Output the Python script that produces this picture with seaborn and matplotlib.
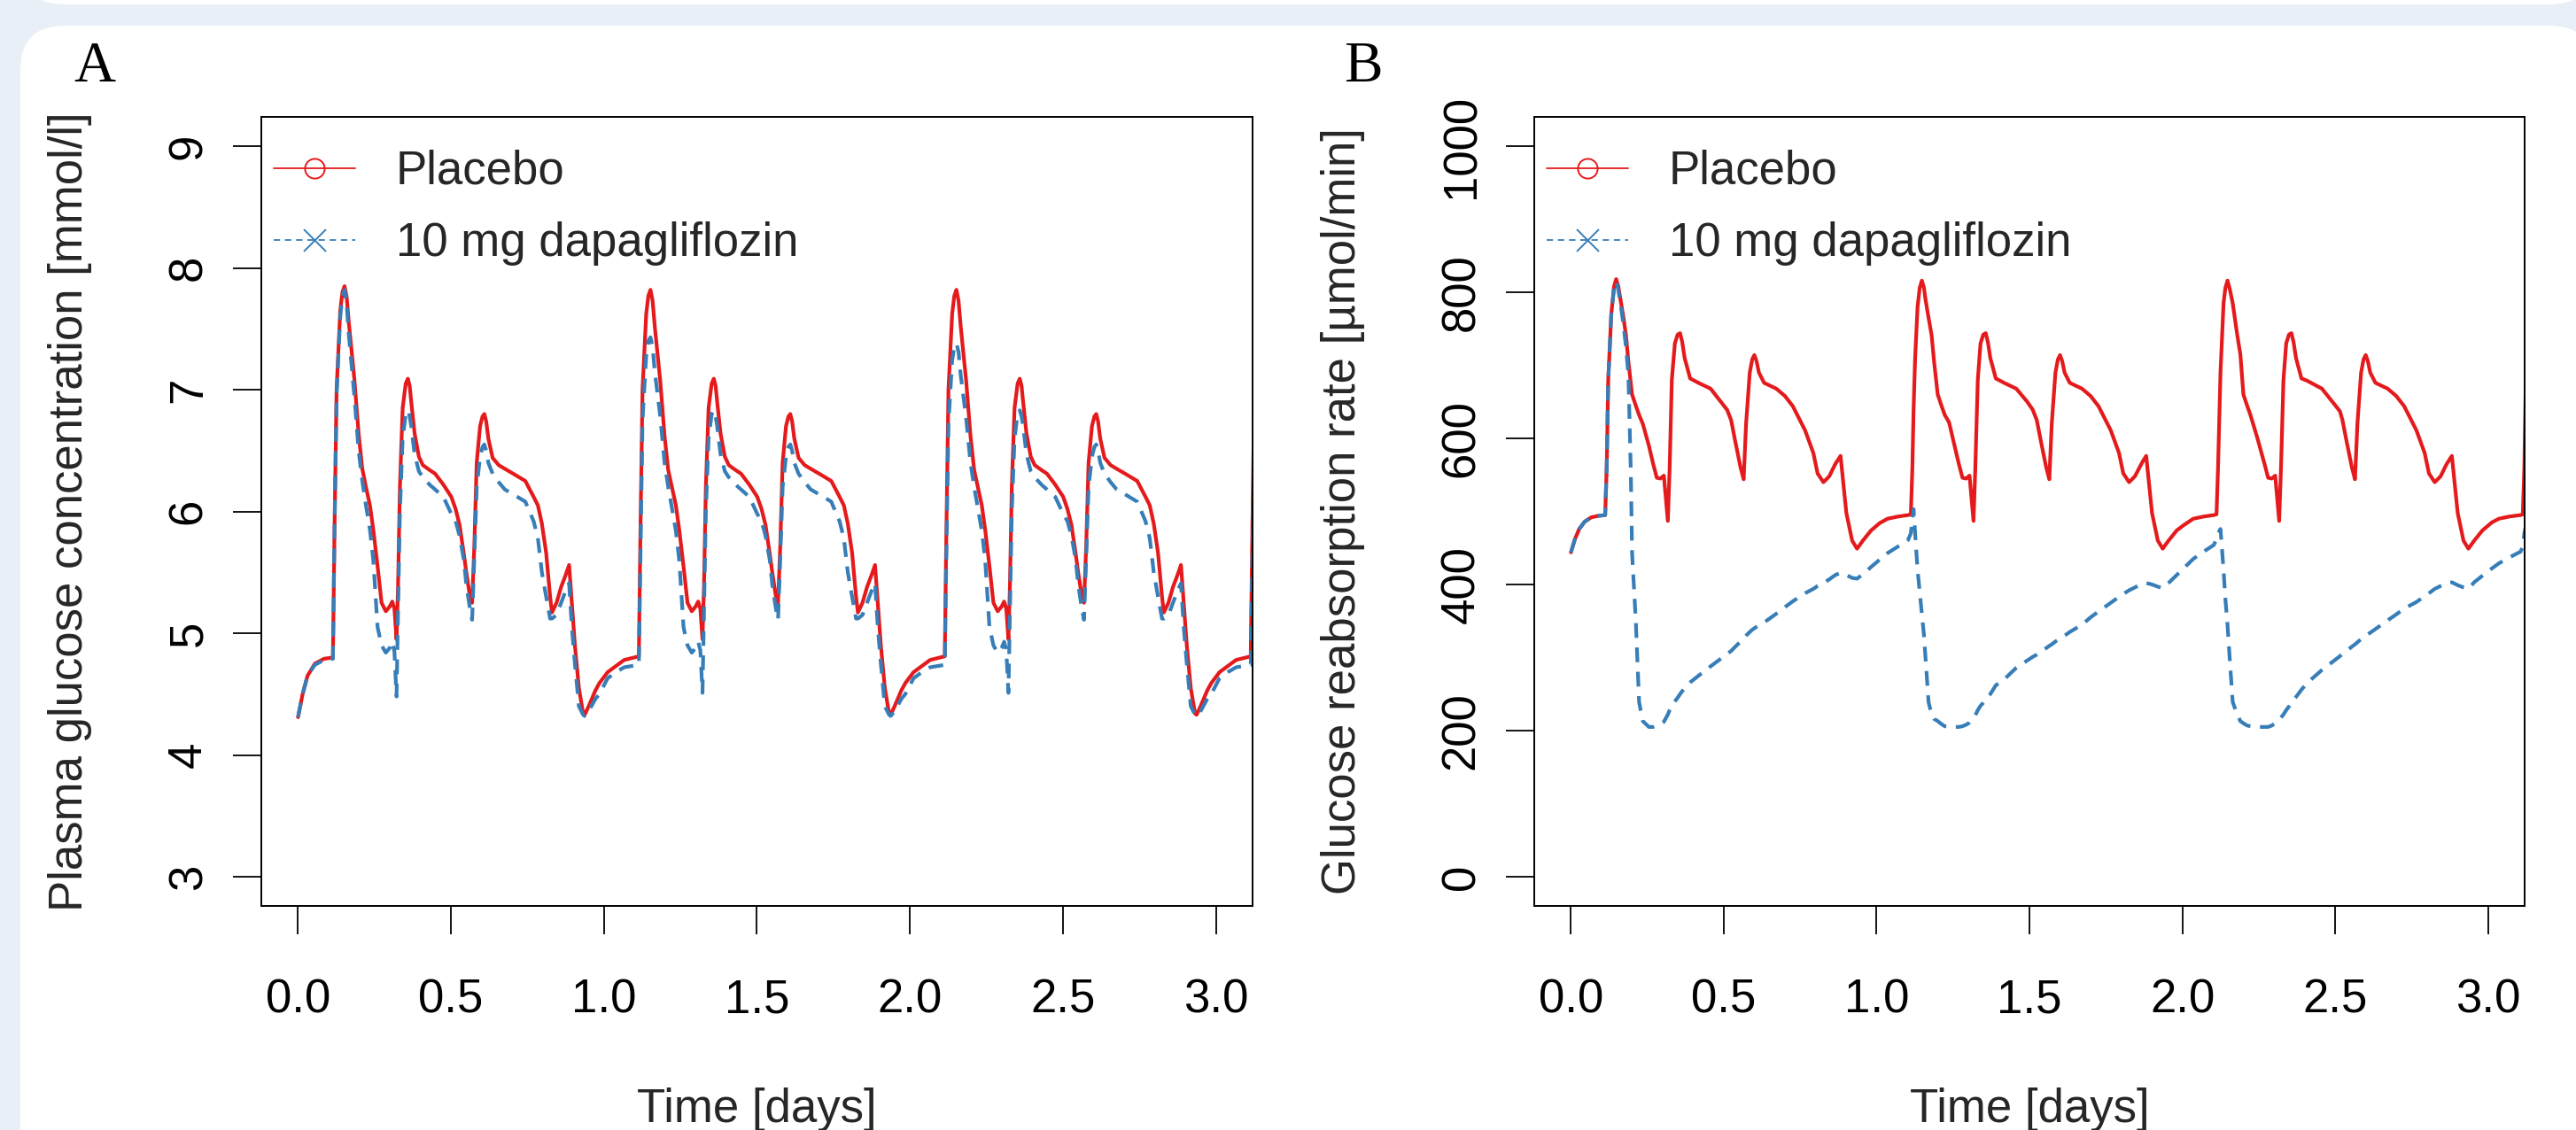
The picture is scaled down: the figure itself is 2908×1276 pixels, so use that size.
import matplotlib
matplotlib.use("Agg")
import matplotlib.pyplot as plt
import seaborn as sns
import pandas as pd
from matplotlib.patches import FancyBboxPatch
from matplotlib.lines import Line2D

# ---------------- data ----------------
series_labels = ["Placebo", "10 mg dapagliflozin"]
x_ticks = [0.0, 0.5, 1.0, 1.5, 2.0, 2.5, 3.0]
x_tick_labels = ["0.0", "0.5", "1.0", "1.5", "2.0", "2.5", "3.0"]
yA_ticks = [3, 4, 5, 6, 7, 8, 9]
yB_ticks = [0, 200, 400, 600, 800, 1000]

# Panel A: plasma glucose [mmol/l]
time_A_day1 = [0.000, 0.015, 0.031, 0.055, 0.085, 0.114, 0.119, 0.126, 0.138, 0.145, 0.152, 0.159,
               0.166, 0.184, 0.198, 0.210, 0.222, 0.235, 0.246, 0.260, 0.273, 0.287,
               0.300, 0.308, 0.315, 0.322, 0.327, 0.333, 0.342, 0.352, 0.359, 0.365, 0.370, 0.381,
               0.395, 0.408, 0.430, 0.448, 0.475, 0.501, 0.515, 0.528, 0.542, 0.550,
               0.562, 0.569, 0.576, 0.584, 0.595, 0.603, 0.609, 0.615, 0.622, 0.636, 0.656, 0.676,
               0.710, 0.743, 0.770, 0.784, 0.797, 0.811, 0.824, 0.830, 0.845, 0.860,
               0.875, 0.886, 0.895, 0.905, 0.918, 0.932, 0.937, 0.950, 0.972, 0.985,
               1.012, 1.039, 1.066, 1.114]
placebo_A_day1 = [4.31, 4.50, 4.65, 4.75, 4.79, 4.80, 5.80, 7.00, 7.65, 7.80, 7.85, 7.76,
                  7.55, 7.09, 6.64, 6.35, 6.20, 6.05, 5.85, 5.55, 5.25, 5.18,
                  5.22, 5.26, 5.20, 4.95, 5.40, 6.20, 6.85, 7.05, 7.09, 7.03, 6.90, 6.64,
                  6.45, 6.38, 6.34, 6.31, 6.22, 6.12, 6.02, 5.89, 5.65, 5.50,
                  5.30, 5.25, 5.70, 6.40, 6.70, 6.78, 6.80, 6.74, 6.60, 6.44, 6.38, 6.35,
                  6.30, 6.25, 6.12, 6.05, 5.90, 5.66, 5.30, 5.17, 5.25, 5.38,
                  5.48, 5.56, 5.25, 4.90, 4.55, 4.34, 4.33, 4.40, 4.53, 4.59,
                  4.68, 4.73, 4.78, 4.81]
dapa_A_day1 = [4.31, 4.50, 4.65, 4.74, 4.78, 4.79, 5.80, 6.95, 7.60, 7.77, 7.82, 7.70,
               7.45, 6.95, 6.50, 6.25, 6.05, 5.85, 5.60, 5.05, 4.90, 4.84,
               4.88, 4.93, 4.85, 4.48, 5.20, 6.00, 6.60, 6.80, 6.83, 6.78, 6.70, 6.47,
               6.33, 6.28, 6.22, 6.18, 6.12, 5.98, 5.92, 5.80, 5.60, 5.40,
               5.20, 5.11, 5.60, 6.20, 6.45, 6.53, 6.55, 6.50, 6.40, 6.31, 6.24, 6.18,
               6.13, 6.08, 5.92, 5.78, 5.50, 5.30, 5.12, 5.12, 5.15, 5.25,
               5.35, 5.41, 5.05, 4.75, 4.40, 4.33, 4.32, 4.36, 4.46, 4.50,
               4.63, 4.68, 4.72, 4.74]

time_A_day2 = [1.119, 1.126, 1.138, 1.145, 1.152, 1.159, 1.166, 1.184, 1.198, 1.210, 1.222, 1.235,
               1.246, 1.260, 1.273, 1.287, 1.300, 1.308, 1.315, 1.322, 1.327, 1.333,
               1.342, 1.352, 1.359, 1.365, 1.370, 1.381, 1.395, 1.408, 1.430, 1.448, 1.475, 1.501,
               1.515, 1.528, 1.542, 1.550, 1.562, 1.569, 1.576, 1.584, 1.595, 1.603, 1.609,
               1.615, 1.622, 1.636, 1.656, 1.676, 1.710, 1.743, 1.770, 1.784, 1.797, 1.811,
               1.824, 1.830, 1.845, 1.860, 1.875, 1.886, 1.895, 1.905, 1.918, 1.932,
               1.937, 1.950, 1.972, 1.985, 2.012, 2.039, 2.066, 2.114]
placebo_A_day2 = [5.80, 7.00, 7.62, 7.77, 7.82, 7.73, 7.52, 7.07, 6.62, 6.34, 6.20, 6.05,
                  5.85, 5.55, 5.25, 5.18, 5.22, 5.26, 5.20, 4.95, 5.40, 6.20,
                  6.85, 7.05, 7.09, 7.03, 6.90, 6.64, 6.45, 6.38, 6.34, 6.31, 6.22, 6.12,
                  6.02, 5.89, 5.65, 5.50, 5.30, 5.25, 5.70, 6.40, 6.70, 6.78, 6.80,
                  6.74, 6.60, 6.44, 6.38, 6.35, 6.30, 6.25, 6.12, 6.05, 5.90, 5.66,
                  5.30, 5.17, 5.25, 5.38, 5.48, 5.56, 5.25, 4.90, 4.55, 4.34,
                  4.33, 4.40, 4.53, 4.59, 4.68, 4.73, 4.78, 4.81]
dapa_A_day2 = [5.60, 6.75, 7.28, 7.40, 7.43, 7.35, 7.15, 6.78, 6.40, 6.20, 6.03, 5.84,
               5.60, 5.05, 4.90, 4.84, 4.88, 4.93, 4.86, 4.51, 5.20, 6.00,
               6.60, 6.80, 6.83, 6.78, 6.70, 6.47, 6.33, 6.28, 6.22, 6.18, 6.12, 5.98,
               5.92, 5.80, 5.60, 5.40, 5.20, 5.11, 5.60, 6.20, 6.45, 6.53, 6.55,
               6.50, 6.40, 6.31, 6.24, 6.18, 6.13, 6.08, 5.92, 5.78, 5.50, 5.30,
               5.12, 5.12, 5.15, 5.25, 5.35, 5.41, 5.05, 4.75, 4.40, 4.33,
               4.32, 4.36, 4.46, 4.50, 4.63, 4.68, 4.72, 4.74]

time_A_day3 = [2.119, 2.126, 2.138, 2.145, 2.152, 2.159, 2.166, 2.184, 2.198, 2.210, 2.222, 2.235,
               2.246, 2.260, 2.273, 2.287, 2.300, 2.308, 2.315, 2.322, 2.327, 2.333,
               2.342, 2.352, 2.359, 2.365, 2.370, 2.381, 2.395, 2.408, 2.430, 2.448, 2.475, 2.501,
               2.515, 2.528, 2.542, 2.550, 2.562, 2.569, 2.576, 2.584, 2.595, 2.603, 2.609,
               2.615, 2.622, 2.636, 2.656, 2.676, 2.710, 2.743, 2.770, 2.784, 2.797, 2.811,
               2.824, 2.830, 2.845, 2.860, 2.875, 2.886, 2.895, 2.905, 2.918, 2.932,
               2.937, 2.950, 2.972, 2.985, 3.012, 3.039, 3.066, 3.114, 3.119, 3.126]
placebo_A_day3 = [5.80, 7.00, 7.62, 7.77, 7.82, 7.73, 7.52, 7.07, 6.62, 6.34, 6.20, 6.05,
                  5.85, 5.55, 5.25, 5.18, 5.22, 5.26, 5.20, 4.95, 5.40, 6.20,
                  6.85, 7.05, 7.09, 7.03, 6.90, 6.64, 6.45, 6.38, 6.34, 6.31, 6.22, 6.12,
                  6.02, 5.89, 5.65, 5.50, 5.30, 5.25, 5.70, 6.40, 6.70, 6.78, 6.80,
                  6.74, 6.60, 6.44, 6.38, 6.35, 6.30, 6.25, 6.12, 6.05, 5.90, 5.66,
                  5.30, 5.17, 5.25, 5.38, 5.48, 5.56, 5.25, 4.90, 4.55, 4.34,
                  4.33, 4.40, 4.53, 4.59, 4.68, 4.73, 4.78, 4.81, 5.80, 7.00]
dapa_A_day3 = [5.60, 6.72, 7.24, 7.35, 7.38, 7.31, 7.12, 6.76, 6.40, 6.20, 6.03, 5.84,
               5.60, 5.05, 4.90, 4.84, 4.88, 4.93, 4.86, 4.51, 5.20, 6.00,
               6.60, 6.80, 6.83, 6.78, 6.70, 6.47, 6.33, 6.28, 6.22, 6.18, 6.12, 5.98,
               5.92, 5.80, 5.60, 5.40, 5.20, 5.11, 5.60, 6.20, 6.45, 6.53, 6.55,
               6.50, 6.40, 6.31, 6.24, 6.18, 6.13, 6.08, 5.92, 5.78, 5.50, 5.30,
               5.12, 5.12, 5.15, 5.25, 5.35, 5.41, 5.05, 4.75, 4.40, 4.33,
               4.32, 4.36, 4.46, 4.50, 4.63, 4.68, 4.72, 4.74, 5.60, 6.75]

# Panel B: glucose reabsorption rate [umol/min]
time_B_day1 = [0.000, 0.013, 0.027, 0.045, 0.067, 0.090, 0.112, 0.117, 0.122, 0.132, 0.141,
               0.148, 0.155, 0.162, 0.172, 0.180, 0.188, 0.196, 0.200, 0.212, 0.223, 0.235,
               0.255, 0.269, 0.281, 0.293, 0.304, 0.317, 0.323, 0.330, 0.340, 0.349, 0.357,
               0.364, 0.372, 0.390, 0.417, 0.457, 0.511, 0.524, 0.538, 0.555, 0.565, 0.573,
               0.585, 0.593, 0.600, 0.607, 0.615, 0.632, 0.672, 0.700, 0.726, 0.766, 0.793, 0.807,
               0.826, 0.845, 0.865, 0.882, 0.901, 0.920, 0.936, 0.955, 0.982, 1.010,
               1.036, 1.070, 1.103, 1.112]
placebo_B_day1 = [444, 462, 476, 486, 492, 494, 495, 560, 680, 770, 808,
                  818, 808, 790, 765, 741, 705, 675, 660, 645, 632, 620,
                  590, 565, 546, 545, 549, 487, 560, 680, 730, 742, 744,
                  732, 710, 682, 676, 668, 639, 625, 595, 560, 544, 620,
                  690, 708, 714, 706, 690, 676, 668, 658, 644, 611, 580, 552,
                  540, 548, 565, 576, 498, 460, 449, 460, 474, 484,
                  490, 493, 495, 496]
dapa_B_day1 = [444, 462, 476, 486, 492, 494, 495, 560, 680, 770, 806,
               815, 803, 785, 755, 725, 687, 552, 443, 352, 239, 213,
               205, 205, 207, 209, 212, 222, 228, 234, 240, 245, 250,
               254, 258, 266, 275, 288, 305, 309, 315, 322, 326, 330,
               335, 338, 340, 342, 344, 348, 360, 369, 377, 388, 394, 398,
               402, 407, 413, 416, 413, 409, 408, 414, 424, 434,
               443, 452, 461, 470]

time_B_day2 = [1.117, 1.121, 1.126, 1.134, 1.141, 1.148, 1.155, 1.160, 1.170, 1.180, 1.188, 1.200,
               1.212, 1.223, 1.237, 1.255, 1.269, 1.281, 1.293, 1.304, 1.317, 1.323,
               1.331, 1.340, 1.349, 1.357, 1.364, 1.372, 1.390, 1.417, 1.457, 1.493, 1.511, 1.524,
               1.538, 1.555, 1.565, 1.573, 1.585, 1.593, 1.600, 1.607, 1.615, 1.632, 1.672, 1.700,
               1.726, 1.766, 1.793, 1.807, 1.826, 1.845, 1.870, 1.882, 1.901, 1.920,
               1.936, 1.955, 1.982, 2.004, 2.036, 2.070, 2.103, 2.112]
placebo_B_day2 = [560, 640, 710, 780, 806, 816, 806, 790, 765, 741, 705, 660,
                  645, 632, 622, 590, 565, 546, 545, 549, 487, 560,
                  680, 730, 742, 744, 732, 710, 682, 676, 668, 650, 639, 625,
                  595, 560, 544, 620, 690, 708, 714, 706, 690, 676, 668, 658,
                  644, 611, 580, 552, 540, 548, 568, 576, 498, 460,
                  449, 460, 474, 481, 490, 493, 495, 496]
dapa_B_day2 = [490, 503, 470, 420, 390, 360, 330, 300, 239, 222, 216, 213,
               209, 206, 205, 205, 205, 206, 208, 211, 218, 221,
               228, 234, 238, 242, 246, 250, 262, 270, 286, 296, 301, 304,
               308, 313, 316, 318, 322, 324, 326, 328, 330, 335, 345, 355,
               363, 375, 383, 387, 392, 396, 401, 402, 400, 397,
               395, 402, 413, 422, 435, 445, 454, 462]

time_B_day3 = [2.117, 2.125, 2.135, 2.141, 2.148, 2.155, 2.165, 2.180, 2.190, 2.200, 2.212,
               2.223, 2.246, 2.269, 2.281, 2.293, 2.304, 2.317, 2.323, 2.331, 2.340,
               2.349, 2.357, 2.364, 2.372, 2.390, 2.408, 2.457, 2.516, 2.524, 2.538, 2.555, 2.565,
               2.573, 2.585, 2.593, 2.600, 2.607, 2.615, 2.632, 2.672, 2.700, 2.726, 2.766, 2.793,
               2.807, 2.826, 2.845, 2.865, 2.882, 2.901, 2.920, 2.936, 2.955, 2.982,
               3.013, 3.036, 3.070, 3.107, 3.114, 3.119, 3.124]
placebo_B_day3 = [560, 690, 785, 806, 816, 805, 785, 741, 715, 660, 645,
                  632, 600, 565, 546, 545, 549, 487, 560, 680, 730,
                  742, 744, 732, 710, 682, 679, 668, 637, 625, 595, 560, 544,
                  620, 690, 708, 714, 706, 690, 676, 668, 658, 644, 611, 580,
                  552, 540, 548, 565, 576, 498, 460, 449, 460, 474,
                  485, 490, 493, 495, 496, 560, 680]
dapa_B_day3 = [470, 476, 420, 380, 345, 300, 239, 222, 213, 210, 207,
               206, 205, 205, 205, 207, 210, 215, 218, 222, 228,
               233, 238, 242, 246, 256, 265, 283, 302, 305, 309, 315, 318,
               321, 325, 327, 330, 332, 334, 339, 351, 359, 367, 376, 384,
               388, 394, 398, 402, 403, 399, 396, 394, 403, 412,
               422, 429, 437, 445, 452, 470, 480]

# ---------------- build tables ----------------
dfA = pd.DataFrame({
    "time": time_A_day1 + time_A_day2 + time_A_day3,
    "placebo": placebo_A_day1 + placebo_A_day2 + placebo_A_day3,
    "dapa": dapa_A_day1 + dapa_A_day2 + dapa_A_day3,
})
dfB = pd.DataFrame({
    "time": time_B_day1 + time_B_day2 + time_B_day3,
    "placebo": placebo_B_day1 + placebo_B_day2 + placebo_B_day3,
    "dapa": dapa_B_day1 + dapa_B_day2 + dapa_B_day3,
})

# ---------------- style ----------------
sns.set_theme(style="ticks")
plt.rcParams["font.family"] = ["Liberation Sans", "DejaVu Sans"]

RED = "#E41A1C"
BLUE = "#377EB8"
BG = "#E8EFF7"
FS = 38

W, H = 2908, 1276
fig = plt.figure(figsize=(W / 100, H / 100), dpi=100, facecolor=BG)

# white rounded panels (background card + bottom edge of previous card)
fig.patches.append(FancyBboxPatch((23, -200), 2905, 1276 - 29 + 200,
                                  boxstyle="round,pad=0,rounding_size=50",
                                  transform=None, facecolor="white", edgecolor="none",
                                  zorder=-10, figure=fig))
fig.patches.append(FancyBboxPatch((23, 1271), 2905, 300,
                                  boxstyle="round,pad=0,rounding_size=50",
                                  transform=None, facecolor="white", edgecolor="none",
                                  zorder=-10, figure=fig))

axA = fig.add_axes([295 / W, 1 - 1023 / H, 1119 / W, 891 / H])
axB = fig.add_axes([1732 / W, 1 - 1023 / H, 1118 / W, 891 / H])

DASH = (0, (4.0, 2.6))
LW = 3.0


def draw(ax, df, yticks, ylim, ylabel):
    sns.lineplot(data=df, x="time", y="placebo", ax=ax, color=RED, lw=LW,
                 sort=False, estimator=None)
    sns.lineplot(data=df, x="time", y="dapa", ax=ax, color=BLUE, lw=LW,
                 sort=False, estimator=None)
    ax.lines[-1].set_linestyle(DASH)
    for ln in ax.lines:
        ln.set_solid_joinstyle("round")
        ln.set_dash_joinstyle("round")
    ax.set_xlim(-0.12, 3.12)
    ax.set_ylim(*ylim)
    ax.set_facecolor("white")
    ax.set_xticks(x_ticks)
    ax.set_xticklabels(x_tick_labels)
    ax.set_yticks(yticks)
    ax.set_yticklabels([str(v) for v in yticks])
    for s in ax.spines.values():
        s.set_visible(True)
        s.set_color("black")
        s.set_linewidth(1.4)
    ax.tick_params(axis="both", direction="out", length=23, width=1.3,
                   color="black", labelsize=FS, labelcolor="black")
    ax.tick_params(axis="x", pad=36)
    ax.tick_params(axis="y", pad=18, labelrotation=90)
    for lbl in ax.get_yticklabels():
        lbl.set_va("center")
    ax.set_xlabel("Time [days]", fontsize=FS)
    ax.xaxis.label.set_va("baseline")
    ax.xaxis.set_label_coords(0.5, (1023 - 1267) / 891)
    ax.set_ylabel(ylabel, fontsize=FS)
    ax.yaxis.label.set_va("baseline")
    ax.yaxis.set_label_coords((93 - 295) / 1119, 0.5)
    handles = [
        Line2D([], [], color=RED, lw=1.3, marker="o", mfc="none", mec=RED,
               ms=16, mew=1.4),
        Line2D([], [], color=BLUE, lw=1.3, ls=(0, (4, 3)), marker="x", mec=BLUE,
               ms=18, mew=1.4),
    ]
    ax.legend(handles, series_labels, loc="upper left",
              bbox_to_anchor=(14 / 1119, 1 - 37 / 891), frameon=False,
              fontsize=FS, handlelength=1.75, handletextpad=0.86,
              labelspacing=0.59, borderpad=0, borderaxespad=0)


draw(axA, dfA, yA_ticks, (2.76, 9.24), "Plasma glucose concentration [mmol/l]")
draw(axB, dfB, yB_ticks, (-40, 1040), "Glucose reabsorption rate [\u00b5mol/min]")

# panel letters
fig.text(83 / W, 1 - 92 / H, "A", family=["Liberation Serif", "DejaVu Serif"],
         fontsize=47, ha="left", va="baseline", color="black")
fig.text(1517 / W, 1 - 92 / H, "B", family=["Liberation Serif", "DejaVu Serif"],
         fontsize=47, ha="left", va="baseline", color="black")

fig.savefig("out.png", dpi=100, facecolor=BG)
